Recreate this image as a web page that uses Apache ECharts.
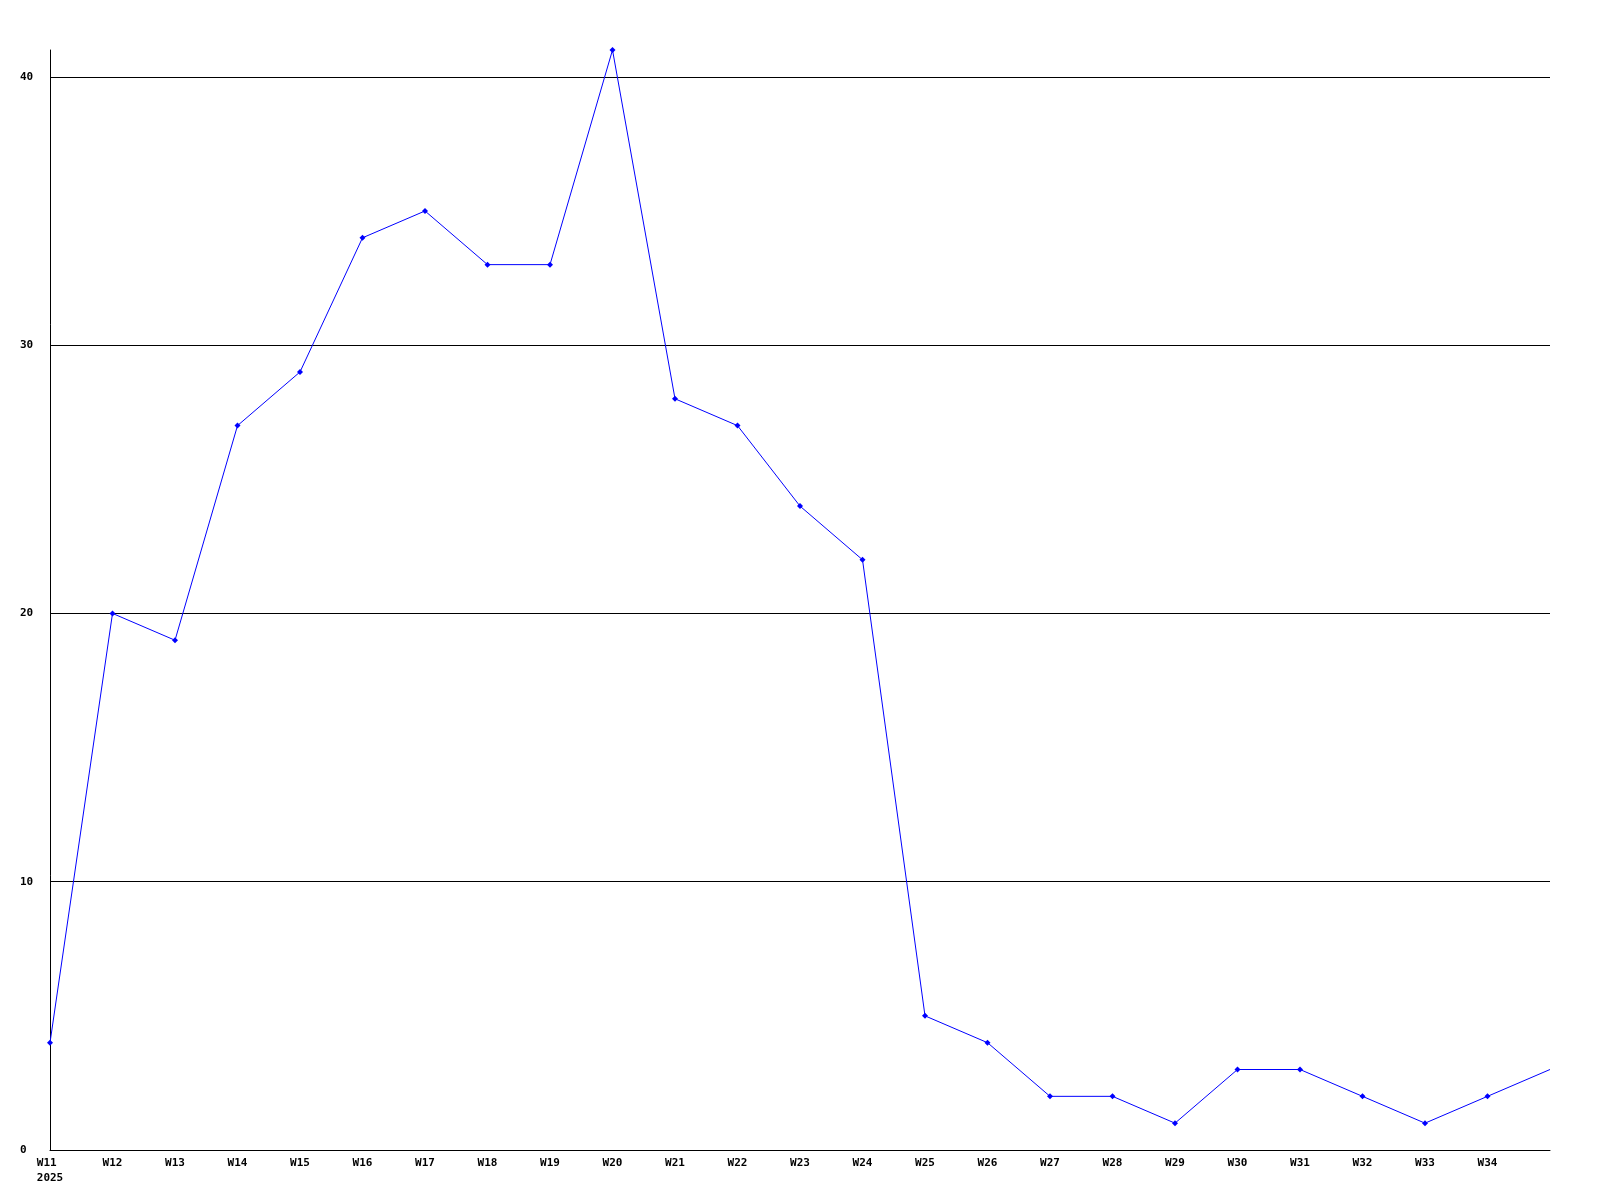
<!DOCTYPE html>
<html><head><meta charset="utf-8">
<script src="https://cdn.jsdelivr.net/npm/echarts@6/dist/echarts.min.js"></script>
<style>html,body{margin:0;padding:0;background:#fff}#c{width:1600px;height:1200px}</style>
</head><body><div id="c"></div>
<script>
const weeks = ['W11','W12','W13','W14','W15','W16','W17','W18','W19','W20','W21','W22','W23','W24','W25','W26','W27','W28','W29','W30','W31','W32','W33','W34',''];
const values = [4,20,19,27,29,34,35,33,33,41,28,27,24,22,5,4,2,2,1,3,3,2,1,2,3];
const yearLabel = '2025';
const chart = echarts.init(document.getElementById('c'));
const font = {fontFamily:'DejaVu Sans Mono', fontSize:11, fontWeight:'bold', color:'#000'};
const seriesData = values.map((v,i)=> i===values.length-1 ? {value:v,symbol:'none'} : v);
chart.setOption({
  animation:false,
  grid:{left:50,right:50,top:50,bottom:50},
  xAxis:{type:'category',data:weeks,boundaryGap:false,
    axisLine:{lineStyle:{color:'#000',width:1}},axisTick:{show:false},
    axisLabel:Object.assign({interval:0,margin:6,lineHeight:15,
      formatter:(v,i)=> i===0 ? v+' \n'+yearLabel : v},font),
    splitLine:{show:false}},
  yAxis:{type:'value',min:0,max:41,interval:10,
    axisLine:{show:true,lineStyle:{color:'#000',width:1}},axisTick:{show:false},
    axisLabel:Object.assign({showMaxLabel:false,align:'left',margin:30},font),
    splitLine:{show:true,showMaxLine:false,lineStyle:{color:'#000',width:1}}},
  series:[{type:'line',data:seriesData,symbol:'diamond',symbolSize:6,showAllSymbol:true,
    lineStyle:{color:'#0000ff',width:1},itemStyle:{color:'#0000ff'}}]
});
</script></body></html>
